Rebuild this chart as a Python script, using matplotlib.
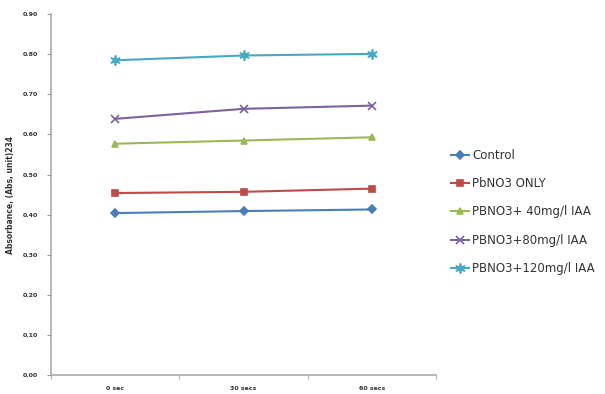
import matplotlib
matplotlib.use("Agg")
import matplotlib.pyplot as plt
import numpy as np

# absorbance readings over time
times = ['0 sec', '30 secs', '60 secs']
control = [0.404, 0.409, 0.413]
pbno3_only = [0.454, 0.457, 0.465]
iaa_40 = [0.577, 0.585, 0.593]
iaa_80 = [0.639, 0.664, 0.672]
iaa_120 = [0.785, 0.797, 0.801]

series = [
    ('Control', control, '#4a7ebb', 'D', 4),
    ('PbNO3 ONLY', pbno3_only, '#be4b48', 's', 5),
    ('PBNO3+ 40mg/l IAA', iaa_40, '#98b954', '^', 5),
    ('PBNO3+80mg/l IAA', iaa_80, '#7d60a0', 'x', 6),
    ('PBNO3+120mg/l IAA', iaa_120, '#46aac5', '$\u2736$', 7),
]

fig = plt.figure(figsize=(6.05, 3.94), dpi=100)
ax = fig.add_axes([0.084, 0.048, 0.637, 0.916])

x = np.arange(len(times))
for name, vals, col, mk, ms in series:
    ax.plot(x, vals, color=col, marker=mk, markersize=ms, linewidth=1.5,
            markeredgewidth=1.2, label=name)

ax.set_xlim(-0.5, len(times) - 0.5)
ax.set_ylim(0, 0.9)
ax.set_yticks(np.arange(0, 0.91, 0.1))
ax.yaxis.set_major_formatter(matplotlib.ticker.FormatStrFormatter('%.2f'))
ax.set_xticks(x)
ax.set_xticklabels(times)
ax.set_xticks([-0.5, 0.5, 1.5, 2.5], minor=True)
ax.tick_params(axis='x', which='major', length=0, labelsize=4.5, pad=8)
ax.tick_params(axis='x', which='minor', length=3, color='#999999')
ax.tick_params(axis='y', length=3, color='#999999', labelsize=4.5, pad=6)
for lbl in ax.get_xticklabels() + ax.get_yticklabels():
    lbl.set_fontweight('bold')
    lbl.set_color('#333333')

for s in ['top', 'right']:
    ax.spines[s].set_visible(False)
for s in ['left', 'bottom']:
    ax.spines[s].set_color('#aaaaaa')
    ax.spines[s].set_linewidth(1.2)

ax.set_ylabel('Absorbance, (Abs, unit)234', fontsize=5.5, fontweight='bold',
              color='#333333', labelpad=6)

fig.legend(loc='center left', bbox_to_anchor=(0.728, 0.462), frameon=False,
           fontsize=8.5, handlelength=1.5, labelspacing=1.3, handletextpad=0.3,
           labelcolor='#333333')

fig.savefig('out.png', dpi=100)
